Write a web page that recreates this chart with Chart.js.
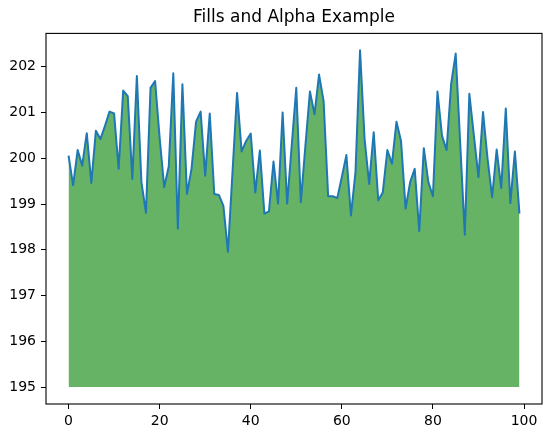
<!DOCTYPE html>
<html>
<head>
<meta charset="utf-8">
<script src="https://cdn.jsdelivr.net/npm/chart.js@4/dist/chart.umd.min.js"></script>
<style>
    body { margin: 0; background: #fff; }
    #wrap { width: 552px; height: 435px; }
</style>
</head>
<body>
<div id="wrap"><canvas id="fillChart" width="552" height="435"></canvas></div>
<script>
// values, one per x index 0..99
const values = [
    200.06, 199.41, 200.18, 199.84, 200.55, 199.46, 200.60, 200.42, 200.71, 201.02,
    200.98, 199.77, 201.48, 201.36, 199.55, 201.80, 199.48, 198.81, 201.54, 201.69,
    200.45, 199.37, 199.82, 201.86, 198.46, 201.62, 199.22, 199.77, 200.80, 201.02,
    199.62, 200.98, 199.22, 199.20, 198.96, 197.96, 199.70, 201.43, 200.15, 200.38,
    200.54, 199.25, 200.17, 198.79, 198.84, 199.93, 199.01, 201.00, 199.01, 200.28,
    201.54, 199.04, 200.27, 201.46, 200.96, 201.83, 201.25, 199.17, 199.17, 199.13,
    199.59, 200.07, 198.75, 199.70, 202.36, 200.42, 199.44, 200.57, 199.08, 199.26,
    200.18, 199.88, 200.80, 200.38, 198.90, 199.48, 199.77, 198.41, 200.22, 199.48,
    199.17, 201.46, 200.49, 200.18, 201.62, 202.29, 200.31, 198.33, 201.41, 200.49,
    199.59, 201.01, 199.99, 199.15, 200.19, 199.35, 201.09, 199.02, 200.15, 198.79
];
const fillBase = 195;
const xTicks = [0, 20, 40, 60, 80, 100];
const yTicks = [195, 196, 197, 198, 199, 200, 201, 202];

const points = values.map((v, i) => ({ x: i, y: v }));
const tickFont = { family: "'DejaVu Sans', sans-serif", size: 14 };

//draws the four spines round the plot area
const frame = {
    id: 'frame',
    afterDraw(chart) {
        const { ctx, chartArea: a } = chart;
        ctx.save();
        ctx.strokeStyle = '#000';
        ctx.lineWidth = 1.1;
        ctx.strokeRect(a.left, a.top, a.right - a.left, a.bottom - a.top);
        ctx.restore();
    }
};

new Chart(document.getElementById('fillChart'), {
    type: 'line',
    data: {
        datasets: [{
            data: points,
            borderColor: '#1f77b4',
            borderWidth: 2,
            borderJoinStyle: 'round',
            pointRadius: 0,
            tension: 0,
            fill: false,
            order: 0
        }, {
            data: points,
            borderWidth: 0,
            pointRadius: 0,
            tension: 0,
            backgroundColor: 'rgba(0, 128, 0, 0.6)',
            fill: { value: fillBase },
            order: 1
        }]
    },
    options: {
        responsive: false,
        animation: false,
        devicePixelRatio: 1,
        layout: {
            padding: { left: 0, right: 10, top: 0, bottom: 0 }
        },
        scales: {
            x: {
                type: 'linear',
                min: -4.95,
                max: 103.95,
                afterBuildTicks: s => { s.ticks = xTicks.map(v => ({ value: v })); },
                afterFit: s => { s.height = 31; },
                ticks: { color: '#000', font: tickFont, padding: 4, maxRotation: 0, autoSkip: false },
                grid: { drawOnChartArea: false, drawTicks: true, tickLength: 5, color: '#000', lineWidth: 1 },
                border: { display: false }
            },
            y: {
                min: 194.63,
                max: 202.73,
                afterBuildTicks: s => { s.ticks = yTicks.map(v => ({ value: v })); },
                afterFit: s => { s.width = 46; },
                ticks: { color: '#000', font: tickFont, padding: 5, autoSkip: false },
                grid: { drawOnChartArea: false, drawTicks: true, tickLength: 5, color: '#000', lineWidth: 1 },
                border: { display: false }
            }
        },
        plugins: {
            legend: { display: false },
            tooltip: { enabled: false },
            title: {
                display: true,
                text: 'Fills and Alpha Example',
                fullSize: false,
                color: '#000',
                font: { family: "'DejaVu Sans', sans-serif", size: 17, weight: 'normal', lineHeight: 1.2 },
                padding: { top: 7, bottom: 6 }
            }
        }
    },
    plugins: [frame]
});
</script>
</body>
</html>
